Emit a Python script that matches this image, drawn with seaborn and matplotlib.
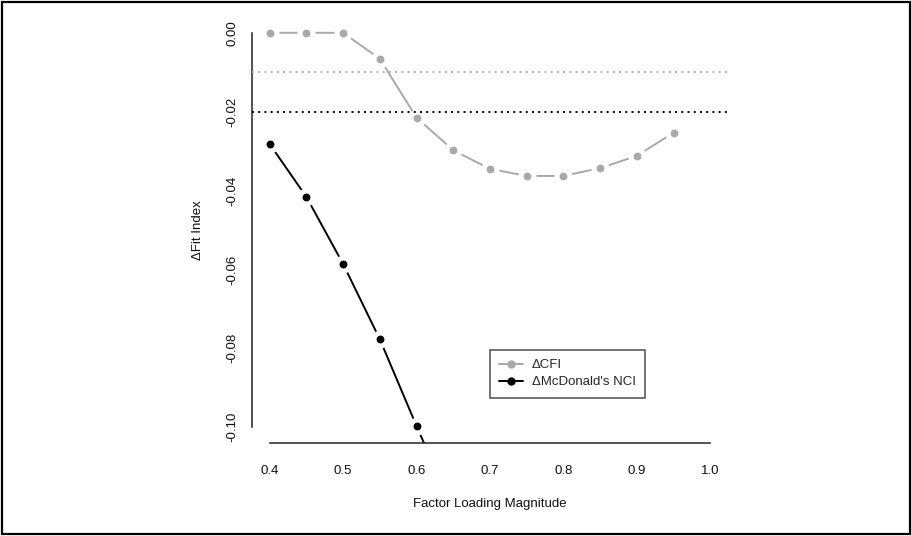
import matplotlib
matplotlib.use("Agg")
import matplotlib.pyplot as plt
from matplotlib.lines import Line2D
from matplotlib.patches import Rectangle
import seaborn as sns
import pandas as pd

# ---- data ----
loading_cfi = [0.40, 0.45, 0.50, 0.55, 0.60, 0.65, 0.70, 0.75, 0.80, 0.85, 0.90, 0.95]
delta_cfi = [0.0, 0.0, 0.0, -0.0066, -0.0215, -0.0298, -0.0345, -0.0363, -0.0363, -0.0343, -0.0312, -0.0253]
loading_nci = [0.40, 0.45, 0.50, 0.55, 0.60, 0.65]
delta_nci = [-0.0282, -0.0416, -0.0586, -0.0777, -0.0997, -0.1210]
cutoffs = [-0.01, -0.02]
cutoff_colors = ["#b0b0b0", "#000000"]
x_ticks = [0.4, 0.5, 0.6, 0.7, 0.8, 0.9, 1.0]
y_ticks = [0.00, -0.02, -0.04, -0.06, -0.08, -0.10]
series_labels = ["\u0394CFI", "\u0394McDonald's NCI"]
series_colors = ["#a9a9a9", "#000000"]

sns.set_style("white")
plt.rcParams["font.family"] = ["Liberation Sans", "DejaVu Sans"]

W, H = 912, 536
fig = plt.figure(figsize=(W / 100, H / 100), dpi=100)
ax = fig.add_axes([252 / W, (H - 443) / H, (728 - 252) / W, (443 - 17) / H])

df_cfi = pd.DataFrame({"x": loading_cfi, "y": delta_cfi})
df_nci = pd.DataFrame({"x": loading_nci, "y": delta_nci})

for df, col in [(df_cfi, series_colors[0]), (df_nci, series_colors[1])]:
    sns.lineplot(data=df, x="x", y="y", ax=ax, color=col, linewidth=1.4,
                 marker="o", markersize=13, markerfacecolor="white",
                 markeredgecolor="white", markeredgewidth=0, zorder=2)
    sns.scatterplot(data=df, x="x", y="y", ax=ax, color=col, s=32,
                    edgecolor=col, linewidth=0, zorder=3)

for yv, c in zip(cutoffs, cutoff_colors):
    ax.axhline(yv, color=c, linestyle=(0, (1, 2.2)), linewidth=1.4, zorder=4)

ax.set_xlim(0.376, 1.024)
ax.set_ylim(-0.104, 0.004)
ax.set_xticks(x_ticks)
ax.set_xticklabels([f"{v:.1f}" for v in x_ticks])
ax.set_yticks(y_ticks)
ax.set_yticklabels([f"{v:.2f}" for v in y_ticks])

for s in ["top", "right"]:
    ax.spines[s].set_visible(False)
ax.spines["left"].set_bounds(-0.10, 0.0)
ax.spines["bottom"].set_bounds(0.4, 1.0)
for s in ["left", "bottom"]:
    ax.spines[s].set_color("#222222")
    ax.spines[s].set_linewidth(1.1)

ax.tick_params(axis="both", direction="out", length=5, width=1.1,
               color="#222222", labelsize=9.5, labelcolor="#111111")
ax.tick_params(axis="x", pad=10.5)
ax.tick_params(axis="y", pad=5)
for lab in ax.get_yticklabels():
    lab.set_rotation(90)
    lab.set_va("center")

ax.set_xlabel("Factor Loading Magnitude", fontsize=9.5, labelpad=15.5, color="#111111")
ax.set_ylabel("\u0394Fit Index", fontsize=9.5, labelpad=16, color="#111111")

handles = [Line2D([0], [0], color=c, marker="o", markersize=5, linewidth=1.4)
           for c in series_colors]
leg = ax.legend(handles, series_labels, loc="upper left",
                bbox_to_anchor=((490 - 252) / (728 - 252), (443 - 350) / (443 - 17)),
                frameon=True, fancybox=False, fontsize=9.5, handlelength=1.8,
                borderpad=0.7, labelspacing=0.35, handletextpad=0.65, borderaxespad=0)
leg.get_frame().set_edgecolor("#222222")
leg.get_frame().set_linewidth(1.1)

fig.patches.append(Rectangle((2 / W, 2 / H), (W - 4) / W, (H - 4) / H,
                             transform=fig.transFigure, fill=False,
                             edgecolor="black", linewidth=1.6))

fig.savefig("out.png", dpi=100)
